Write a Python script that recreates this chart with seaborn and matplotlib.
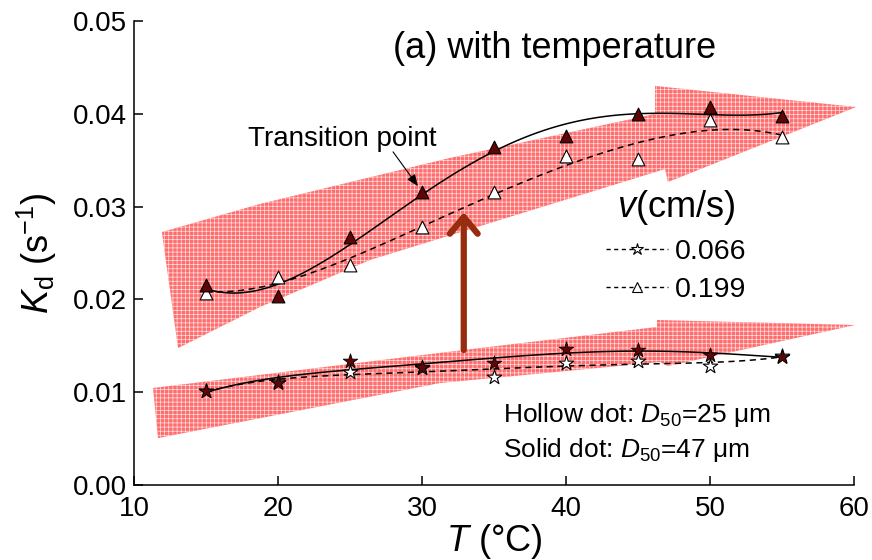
import numpy as np
import matplotlib
matplotlib.use("Agg")
import matplotlib.pyplot as plt
import seaborn as sns
from matplotlib.patches import Polygon
from matplotlib.lines import Line2D

# ---------------- data ----------------
T = [15, 20, 25, 30, 35, 40, 45, 50, 55]
kd_tri_solid = [0.02155, 0.0204, 0.02676, 0.03154, 0.03646, 0.03764, 0.03998, 0.04077, 0.0398]
kd_tri_hollow = [0.0207, 0.02238, 0.0237, 0.02784, 0.03154, 0.03545, 0.0351, 0.0393, 0.03747]
kd_star_solid = [0.0101, 0.0110, 0.01336, 0.01268, 0.01318, 0.01466, 0.01455, 0.0140, 0.01383]
kd_star_hollow = [0.0101, 0.0111, 0.01214, 0.0126, 0.01167, 0.0131, 0.0134, 0.01286, 0.0139]

x_ticks = [10, 20, 30, 40, 50, 60]
y_ticks = [0.00, 0.01, 0.02, 0.03, 0.04, 0.05]
legend_labels = ["0.066", "0.199"]

# decorative pink arrows (data coords)
upper_arrow = [(11.94, 0.02726), (18.75, 0.03028), (31.94, 0.03524), (46.18, 0.03998),
               (46.18, 0.04300), (60.14, 0.04073), (47.08, 0.03265), (46.88, 0.03405),
               (26.39, 0.02425), (18.75, 0.01918), (13.06, 0.01476)]
lower_arrow = [(11.32, 0.01045), (34.03, 0.01476), (46.32, 0.01703), (46.32, 0.01778),
               (60.07, 0.01724), (47.08, 0.01282), (46.53, 0.01325), (31.25, 0.01099),
               (11.67, 0.00506)]

sns.set_theme(style="ticks")
plt.rcParams['font.family'] = ['Liberation Sans', 'DejaVu Sans']
plt.rcParams['mathtext.fontset'] = 'custom'
plt.rcParams['mathtext.rm'] = 'Liberation Sans'
plt.rcParams['mathtext.it'] = 'Liberation Sans:italic'
plt.rcParams['mathtext.bf'] = 'Liberation Sans:bold'
plt.rcParams['hatch.linewidth'] = 0.5
for k in ('text.color', 'axes.labelcolor', 'xtick.color', 'ytick.color', 'axes.edgecolor'):
    plt.rcParams[k] = 'black'

fig = plt.figure(figsize=(8.72, 5.6), dpi=100)
ax = fig.add_axes([134/872, 75/560, 720/872, 464/560])

for verts in (upper_arrow, lower_arrow):
    ax.add_patch(Polygon(verts, closed=True, facecolor='#FF6E6E', edgecolor='#FFE0E0',
                         hatch='++++', linewidth=0, zorder=1, clip_on=False))

solid_kw = dict(color='black', lw=1.1)
dash_kw = dict(color='black', lw=1.1, ls=(0, (4, 3)))
for vals, kw, order in ((kd_tri_solid, solid_kw, 4), (kd_tri_hollow, dash_kw, 5),
                        (kd_star_solid, solid_kw, 5), (kd_star_hollow, dash_kw, 5)):
    sns.regplot(x=T, y=vals, order=order, ci=None, scatter=False, truncate=True,
                line_kws=dict(zorder=3, **kw), ax=ax)

dark = '#5E0606'
sns.scatterplot(x=T, y=kd_tri_solid, marker='^', s=85, color=dark, edgecolor='black',
                linewidth=0.8, ax=ax, zorder=5)
sns.scatterplot(x=T, y=kd_tri_hollow, marker='^', s=85, color='white', edgecolor='black',
                linewidth=0.8, ax=ax, zorder=4)
sns.scatterplot(x=T, y=kd_star_solid, marker='*', s=120, color=dark, edgecolor='black',
                linewidth=0.6, ax=ax, zorder=5)
sns.scatterplot(x=T, y=kd_star_hollow, marker='*', s=120, color='white', edgecolor='black',
                linewidth=0.8, ax=ax, zorder=4)

ax.set_xlim(10, 60)
ax.set_ylim(0, 0.05)
ax.set_xticks(x_ticks)
ax.set_yticks(y_ticks)
ax.set_yticklabels([f"{v:.2f}" for v in y_ticks])
ax.tick_params(direction='in', length=6.5, width=1.1, labelsize=20, pad=5, colors='black')
ax.tick_params(axis='x', pad=8)
for s in ('top', 'right'):
    ax.spines[s].set_visible(False)
for s in ('left', 'bottom'):
    ax.spines[s].set_linewidth(1.1)
    ax.spines[s].set_color('black')

ax.set_xlabel(r"$\mathit{T}$ (°C)", fontsize=26, labelpad=0)
ax.set_ylabel(r"$\mathit{K}_{\mathrm{d}}$ (s$^{-1}$)", fontsize=26, labelpad=10)

ax.text(39.24, 0.0470, "(a) with temperature", fontsize=26, ha='center', va='center')

# big vertical arrow
ax.annotate("", xy=(32.9, 0.0294), xytext=(32.9, 0.01455),
            arrowprops=dict(arrowstyle="->,head_length=0.6,head_width=0.5", lw=4.5,
                            color='#982C0E', mutation_scale=20, shrinkA=0, shrinkB=0),
            zorder=6)

# transition point
ax.text(24.44, 0.0373, "Transition point", fontsize=20, ha='center', va='center')
ax.annotate("", xy=(29.72, 0.0322), xytext=(27.99, 0.0359),
            arrowprops=dict(arrowstyle="-|>,head_length=0.5,head_width=0.2", lw=0.8,
                            color='black', mutation_scale=14, shrinkA=0, shrinkB=0),
            zorder=6)

ax.text(35.63, 0.00754, "Hollow dot: $\\mathit{D}_{\\mathrm{50}}$=25 μm", fontsize=19,
        ha='left', va='center')
ax.text(35.63, 0.00377, "Solid dot: $\\mathit{D}_{\\mathrm{50}}$=47 μm", fontsize=19,
        ha='left', va='center')

handles = [
    Line2D([], [], color='black', lw=1.0, ls=(0, (3, 2.5)), marker='*', ms=9,
           mfc='white', mec='black', mew=0.8),
    Line2D([], [], color='black', lw=1.0, ls=(0, (3, 2.5)), marker='^', ms=7,
           mfc='white', mec='black', mew=0.8),
]
leg = ax.legend(handles, legend_labels, title=r"$\mathit{v}$(cm/s)", frameon=False,
                fontsize=20.5, title_fontsize=26, loc='upper left',
                bbox_to_anchor=(0.655, 0.64), borderpad=0, borderaxespad=0,
                handlelength=2.2, handletextpad=0.25, labelspacing=0.42)

fig.savefig("out.png", dpi=100)
